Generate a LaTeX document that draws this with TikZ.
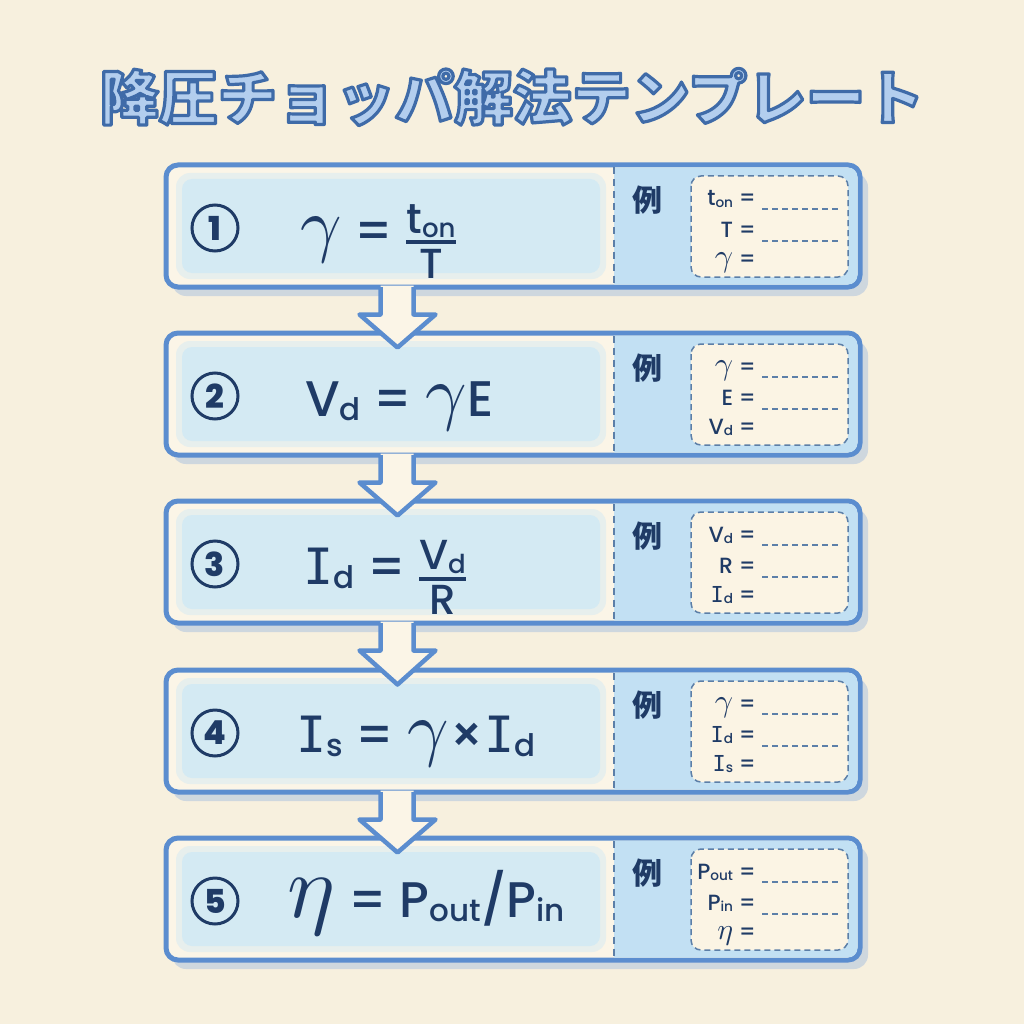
\documentclass[tikz,border=0pt]{standalone}
\usepackage{fontspec}
\usepackage{graphicx}
\usetikzlibrary{calc}
\setmainfont{Poppins Medium}
\newfontfamily\jpfont{Noto Sans CJK JP}
\newfontfamily\slabfont{DejaVu Sans Mono}
\definecolor{Paper}{HTML}{F7F0DE}
\definecolor{Cream}{HTML}{FBF5E7}
\definecolor{Edge}{HTML}{5B8DCF}
\definecolor{Soft}{HTML}{D4EAF3}
\definecolor{PanelBlue}{HTML}{C2E0F3}
\definecolor{InnerFill}{HTML}{FBF4E4}
\definecolor{Dash}{HTML}{5C7FA8}
\definecolor{Ink}{HTML}{1F3B66}
\definecolor{TitleFill}{HTML}{B3CEEE}
\definecolor{ShadowBlue}{HTML}{9DB9E0}

\makeatletter
% greek letters at 10pt, scaled up to the size in force
\newcommand\greekat[2]{\scalebox{\strip@pt\dimexpr\f@size pt*#1/1000\relax}{\fontsize{10}{12}\selectfont$#2$}}
\makeatother
\newcommand\sbs[1]{\raisebox{-0.08em}{\scalebox{0.62}{#1}}}
\newcommand\gam{\greekat{145}{\gamma}}
\newcommand\bigeta{\greekat{180}{\eta}}
\newcommand\smalleta{\greekat{135}{\eta}}
\newcommand\Islab{{\slabfont I}}
\newcommand\frc[2]{$\vcenter{\fontsize{42}{48}\selectfont\offinterlineskip
  \halign{\hfil##\hfil\cr #1\cr\noalign{\kern3pt\hrule height 4pt\kern5pt}#2\cr}}$}
% outlined glyphs: fill, then stroke in the title's edge blue
\newcommand\outlined[1]{\special{pdf:literal direct 2 Tr 3.2 w 1 j 0.247 0.420 0.659 RG}#1\special{pdf:literal direct 0 Tr}}

\begin{document}
\begin{tikzpicture}[x=1pt,y=-1pt]
 \tikzstyle{StepBox}=[draw=Edge, fill=Cream, line width=5pt, rounded corners=12pt,
                      minimum width=694pt, minimum height=122pt, inner sep=0pt]
 \tikzstyle{NumCircle}=[circle, draw=Ink, line width=3pt, minimum size=46pt, inner sep=0pt,
                        text=Ink, font=\bfseries\fontsize{33}{33}\selectfont]
 \tikzstyle{Formula}=[anchor=base west, inner sep=0pt, text=Ink,
                      font=\fontsize{50}{56}\selectfont]
 \tikzstyle{ExLabel}=[text=Ink, font=\jpfont\bfseries\fontsize{30}{30}\selectfont]
 \tikzstyle{RowText}=[anchor=base east, inner sep=0pt, text=Ink,
                      font=\fontsize{22}{26}\selectfont]
 \tikzstyle{InnerBox}=[draw=Dash, fill=InnerFill, line width=1.5pt,
                       dash pattern=on 6pt off 4pt, rounded corners=10pt]
 \tikzstyle{Blank}=[draw=Dash, line width=1.4pt, dash pattern=on 6pt off 4pt]
 \tikzstyle{Divider}=[draw=Dash, line width=1.4pt, dash pattern=on 7pt off 5pt]
 \tikzstyle{ArrowLine}=[draw=Edge, line width=4.5pt, line join=round]
 \tikzstyle{TitleText}=[inner sep=0pt, text=TitleFill,
                        font=\jpfont\bfseries\fontsize{59}{59}\selectfont]

 \useasboundingbox (0,0) rectangle (1024,1024);
 \fill[Paper] (0,0) rectangle (1024,1024);

 % title
 \node[TitleText] (title) at (512,97) {\outlined{降圧チョッパ解法テンプレート}};

 % steps
 \foreach \i/\ty/\fx/\fy/\ftext/\ra/\rb/\rc in {
   1/165/300/22/{\gam{} = \frc{t\sbs{on}}{T}}/{t\sbs{on} =}/{T =}/{\gam{} =},
   2/333/305/22/{V\sbs{d} = \gam{}E}/{\gam{} =}/{E =}/{V\sbs{d} =},
   3/501/303/22/{\Islab\sbs{d} = \frc{V\sbs{d}}{R}}/{V\sbs{d} =}/{R =}/{\Islab\sbs{d} =},
   4/670/296/21/{\Islab\sbs{s} = \gam{}×\Islab\sbs{d}}/{\gam{} =}/{\Islab\sbs{d} =}/{\Islab\sbs{s} =},
   5/838/287/18/{\bigeta{} = P\sbs{out}\slash P\sbs{in}}/{P\sbs{out} =}/{P\sbs{in} =}/{\smalleta{} =}}
 {
  \begin{scope}[shift={(0,\ty)}]
   \fill[ShadowBlue, opacity=.45, rounded corners=14pt] (172,8) rectangle (868,131);
   \node[StepBox] (box\i) at (513,61) {};
   \begin{scope}
    \clip (614,0) rectangle (862,122);
    \fill[PanelBlue, rounded corners=9.5pt] (560,2.5) rectangle (857.5,119.5);
   \end{scope}
   \fill[Soft, opacity=.5, rounded corners=14pt] (176,8) rectangle (606,114);
   \fill[Soft, rounded corners=10pt] (182,14) rectangle (600,108);
   \draw[Divider] (614,2.5) -- (614,119.5);
   \node[NumCircle] (num\i) at (215,63) {\i};
   \node[Formula] (frm\i) at (\fx,61+\fy) {\ftext};
   % example panel
   \node[ExLabel] (ex\i) at (647,35) {例};
   \draw[InnerBox] (691,11) rectangle (848,112);
   \node[RowText] (row\i-a) at (756,41) {\ra};
   \node[RowText] (row\i-b) at (756,72) {\rb};
   \node[RowText] (row\i-c) at (756,101) {\rc};
   \draw[Blank] (762,44) -- (838,44);
   \draw[Blank] (762,76) -- (838,76);
  \end{scope}
 }

 % arrows
 \foreach \i/\j in {1/2,2/3,3/4,4/5} {
   \coordinate (a) at ($(box\i.south west)+(217,0)$);
   \coordinate (tip) at ($(box\j.north west)+(234,17)$);
   \fill[Cream] ($(a)+(0,-4)$) -- ($(a)+(0,25)$) -- ($(a)+(-21,25)$) -- (tip)
        -- ($(a)+(55,25)$) -- ($(a)+(33,25)$) -- ($(a)+(33,-4)$) -- cycle;
   \draw[ArrowLine] ($(a)+(0,-2.5)$) -- ($(a)+(0,25)$) -- ($(a)+(-21,25)$) -- (tip)
        -- ($(a)+(55,25)$) -- ($(a)+(33,25)$) -- ($(a)+(33,-2.5)$);
 }
\end{tikzpicture}
\end{document}
